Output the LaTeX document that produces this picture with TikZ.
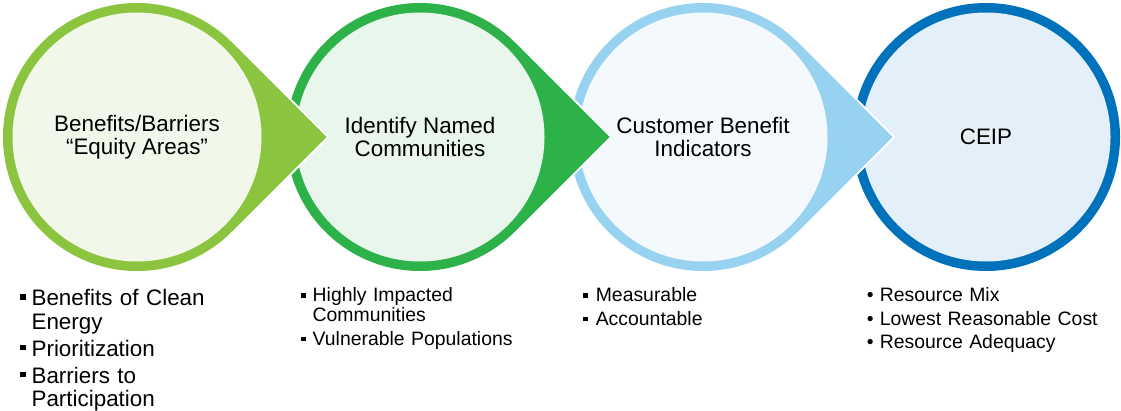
\documentclass[tikz,border=0pt]{standalone}
\usepackage{fontspec}
\setmainfont{Liberation Sans}
\usepackage{tikz}
\usetikzlibrary{calc}
\usetikzlibrary{positioning}

\definecolor{limering}{RGB}{139,197,64}
\definecolor{limefill}{RGB}{241,248,234}
\definecolor{leafring}{RGB}{45,178,74}
\definecolor{leaffill}{RGB}{232,246,236}
\definecolor{skyring}{RGB}{152,210,241}
\definecolor{skyfill}{RGB}{244,249,254}
\definecolor{oceanring}{RGB}{0,113,187}
\definecolor{oceanfill}{RGB}{227,240,250}

\newcommand{\boxbullet}[2]{\raisebox{#2}{\rule{#1}{#1}}}

\begin{document}
\begin{tikzpicture}[x=1pt, y=1pt,
	drop/.style={preaction={draw=white, line width=4pt}},
	title/.style={align=center, inner sep=0pt, font=\fontsize{22.4}{23.3}\selectfont},
	list/.style={anchor=base west, inner sep=0pt, text width=260pt, align=left}]
	\useasboundingbox (0,0) rectangle (1121,410);

	% centres of the four stages
	\coordinate (stage1) at (137,273);
	\coordinate (stage2) at (420,273);
	\coordinate (stage3) at (703,273);
	\coordinate (stage4) at (986,273);

	% drops, drawn from right to left so each tip lies on the next circle
	\fill[oceanring] (stage4) circle[radius=134];
	\fill[oceanfill] (stage4) circle[radius=124.5];

	\path[drop, fill=skyring] ($(stage3)+(189.5,0)$) -- ($(stage3)+(45:134)$)
		arc[start angle=45, end angle=315, radius=134] -- cycle;
	\fill[skyfill] (stage3) circle[radius=124.5];

	\path[drop, fill=leafring] ($(stage2)+(189.5,0)$) -- ($(stage2)+(45:134)$)
		arc[start angle=45, end angle=315, radius=134] -- cycle;
	\fill[leaffill] (stage2) circle[radius=124.5];

	\path[drop, fill=limering] ($(stage1)+(189.5,0)$) -- ($(stage1)+(45:134)$)
		arc[start angle=45, end angle=315, radius=134] -- cycle;
	\fill[limefill] (stage1) circle[radius=124.5];

	% stage titles
	\node[title] (equity) at (stage1) {Benefits/Barriers\\“Equity Areas”};
	\node[title] (communities) at (stage2) {Identify Named\\Communities};
	\node[title] (indicators) at (stage3) {Customer Benefit\\Indicators};
	\node[title] (ceip) at (stage4) {CEIP};

	% lists under the stages
	\node[list, font=\fontsize{22.4}{23.3}\selectfont] (equitylist) at (20,104.3)
		{\makebox[11.4pt][l]{\boxbullet{5.7pt}{5.7pt}}Benefits of Clean\\
		\hspace*{11.4pt}Energy\\[3.7pt]
		\makebox[11.4pt][l]{\boxbullet{5.7pt}{5.7pt}}Prioritization\\[3.7pt]
		\makebox[11.4pt][l]{\boxbullet{5.7pt}{5.7pt}}Barriers to\\
		\hspace*{11.4pt}Participation};
	\node[list, font=\fontsize{19.4}{19.3}\selectfont] (communitylist) at (301,108.3)
		{\makebox[11.5pt][l]{\boxbullet{4.4pt}{4pt}}Highly Impacted\\
		\hspace*{11.5pt}Communities\\[4.7pt]
		\makebox[11.5pt][l]{\boxbullet{4.4pt}{4pt}}Vulnerable Populations};
	\node[list, font=\fontsize{19.4}{19.3}\selectfont] (indicatorlist) at (583,108.3)
		{\makebox[12.6pt][l]{\boxbullet{4.4pt}{4pt}}Measurable\\[4pt]
		\makebox[12.6pt][l]{\boxbullet{4.4pt}{4pt}}Accountable};
	\node[list, font=\fontsize{19.4}{19.3}\selectfont] (ceiplist) at (866.6,108.3)
		{\makebox[13pt][l]{•}Resource Mix\\[4pt]
		\makebox[13pt][l]{•}Lowest Reasonable Cost\\[4pt]
		\makebox[13pt][l]{•}Resource Adequacy};
\end{tikzpicture}
\end{document}
